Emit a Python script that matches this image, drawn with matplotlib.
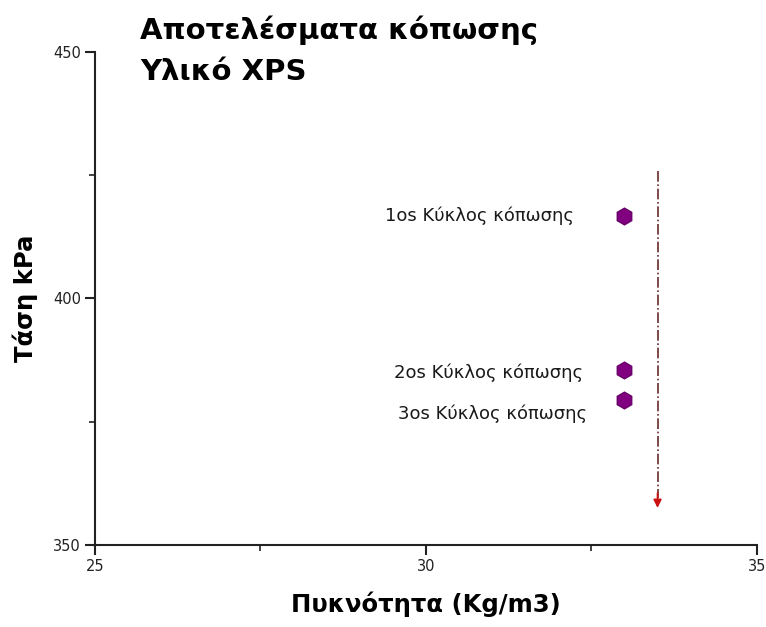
import matplotlib
matplotlib.use("Agg")
import matplotlib.pyplot as plt
from matplotlib.ticker import MultipleLocator

# Fatigue test results for XPS
density = [33.0, 33.0, 33.0]
stress = [416.7, 385.5, 379.4]
cycle_labels = ["1os Κύκλος κόπωσης", "2os Κύκλος κόπωσης", "3os Κύκλος κόπωσης"]

# Trend arrow (density, start stress, end stress)
arrow_x = 33.5
arrow_top = 425.8
arrow_bottom = 357.5

x_range = (25, 35)
y_range = (350, 450)
x_ticks = [25, 30, 35]
y_ticks = [350, 400, 450]

title_lines = ["Αποτελέσματα κόπωσης", "Υλικό XPS"]
x_label = "Πυκνότητα (Kg/m3)"
y_label = "Τάση kPa"

fig = plt.figure(figsize=(7.66, 6.27), dpi=100)
ax = fig.add_axes([0.124, 0.131, 0.864, 0.786])

ax.plot(density, stress, linestyle="none", marker="h", markersize=12,
        color="#800080", markeredgecolor="#6a006a", zorder=3)

# Text offsets (points) from each marker
label_offsets = [(-36, 0), (-30, -2), (-27, -10)]
for x, y, lbl, off in zip(density, stress, cycle_labels, label_offsets):
    ax.annotate(lbl, xy=(x, y), xytext=off, textcoords="offset points",
                ha="right", va="center", fontsize=13,
                family="DejaVu Sans", color="#1a1a1a")

ax.plot([arrow_x, arrow_x], [arrow_top, arrow_bottom + 2], linestyle="-.",
        color="#6a2a2a", linewidth=1.2, zorder=2)
ax.annotate("", xy=(arrow_x, arrow_bottom), xytext=(arrow_x, arrow_bottom + 3),
            arrowprops=dict(arrowstyle="-|>", color="#cc1010", lw=1.2,
                            mutation_scale=12, shrinkA=0, shrinkB=0))

ax.set_xlim(*x_range)
ax.set_ylim(*y_range)
ax.set_xticks(x_ticks)
ax.set_yticks(y_ticks)
ax.xaxis.set_minor_locator(MultipleLocator(2.5))
ax.yaxis.set_minor_locator(MultipleLocator(25))

for side in ("top", "right"):
    ax.spines[side].set_visible(False)
for side in ("left", "bottom"):
    ax.spines[side].set_linewidth(1.5)
    ax.spines[side].set_color("#222222")

ax.tick_params(which="major", direction="out", length=7, width=1.5,
               labelsize=10.5, colors="#222222", pad=3)
ax.tick_params(which="minor", direction="out", length=4, width=1.2,
               colors="#222222")

ax.set_xlabel(x_label, fontsize=17.5, fontweight="bold", family="DejaVu Sans",
              labelpad=13)
ax.set_ylabel(y_label, fontsize=17.5, fontweight="bold", family="DejaVu Sans",
              labelpad=11)

fig.text(0.183, 0.952, title_lines[0], fontsize=21, fontweight="bold",
         family="DejaVu Sans", va="center", ha="left")
fig.text(0.183, 0.885, title_lines[1], fontsize=21, fontweight="bold",
         family="DejaVu Sans", va="center", ha="left")

fig.savefig("out.png", dpi=100, facecolor="white")
